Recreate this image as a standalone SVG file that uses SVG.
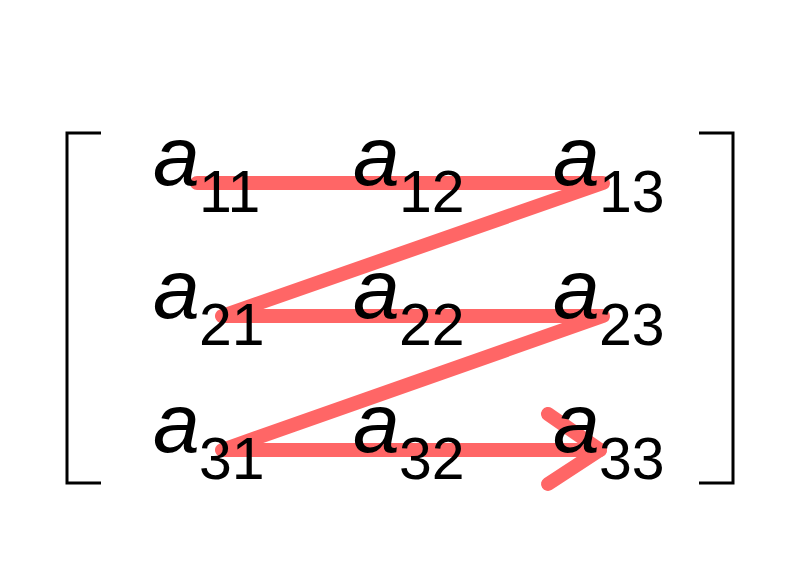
<svg xmlns="http://www.w3.org/2000/svg" width="800" height="565" viewBox="0 0 800 565">
<style>
.br{fill:none;stroke:#000;stroke-width:3}
.rl{fill:none;stroke:#ff6666;stroke-width:14;stroke-linecap:round;stroke-linejoin:round}
.a{font-family:"Liberation Sans",Arial,sans-serif;font-style:italic;font-size:84px;fill:#000}
.s{font-family:"Liberation Sans",Arial,sans-serif;font-size:59px;fill:#000}
</style>
<rect width="800" height="565" fill="#fff"/>
<g id="brackets">
<path class="br" d="M101,133 H67 V483 H101"/>
<path class="br" d="M699,133 H733 V483 H699"/>
</g>
<g id="connectors">
<path class="rl" d="M197,183 H603 L222,316 H603 L222,450 H600"/>
<path class="rl" d="M548,414 L600,450 L548,484"/>
</g>
<g id="a11"><text class="a" x="153" y="185">a</text><text class="s" x="199" y="212">11</text></g>
<g id="a12"><text class="a" x="353" y="185">a</text><text class="s" x="399" y="212">12</text></g>
<g id="a13"><text class="a" x="553" y="185">a</text><text class="s" x="599" y="212">13</text></g>
<g id="a21"><text class="a" x="153" y="318">a</text><text class="s" x="199" y="345">21</text></g>
<g id="a22"><text class="a" x="353" y="318">a</text><text class="s" x="399" y="345">22</text></g>
<g id="a23"><text class="a" x="553" y="318">a</text><text class="s" x="599" y="345">23</text></g>
<g id="a31"><text class="a" x="153" y="452">a</text><text class="s" x="199" y="479">31</text></g>
<g id="a32"><text class="a" x="353" y="452">a</text><text class="s" x="399" y="479">32</text></g>
<g id="a33"><text class="a" x="553" y="452">a</text><text class="s" x="599" y="479">33</text></g>
</svg>
